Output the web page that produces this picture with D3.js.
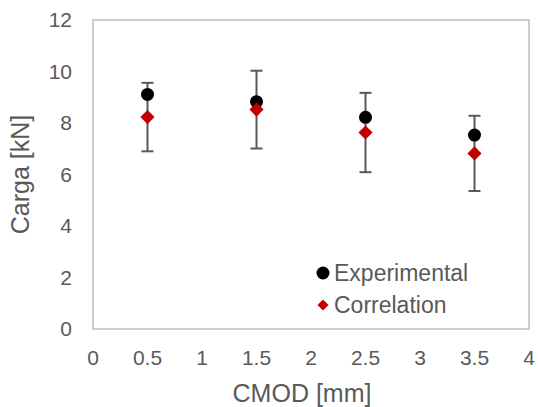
<!DOCTYPE html>
<html>
<head>
<meta charset="utf-8">
<script src="https://cdn.jsdelivr.net/npm/d3@7"></script>
<style>
  body { margin: 0; background: #fff; }
  text { font-family: "Liberation Sans", Arial, sans-serif; fill: #595959; }
</style>
</head>
<body>
<div id="chart"></div>
<script>
// data
const cmod = [0.5, 1.5, 2.5, 3.5];
const experimental = [9.11, 8.83, 8.22, 7.53];
const correlation = [8.23, 8.52, 7.63, 6.82];
const corrError = [1.33, 1.51, 1.54, 1.46];
const xTicks = [0, 0.5, 1, 1.5, 2, 2.5, 3, 3.5, 4];
const yTicks = [0, 2, 4, 6, 8, 10, 12];

const width = 538, height = 407;
const margin = { top: 20, right: 9, bottom: 78, left: 93 };

const svg = d3.select("#chart").append("svg")
    .attr("width", width)
    .attr("height", height);

const x = d3.scaleLinear().domain([0, 4]).range([margin.left, width - margin.right]);
const y = d3.scaleLinear().domain([0, 12]).range([height - margin.bottom, margin.top]);

// plot area box
svg.append("rect")
    .attr("x", x(0))
    .attr("y", y(12))
    .attr("width", x(4) - x(0))
    .attr("height", y(0) - y(12))
    .attr("fill", "none")
    .attr("stroke", "#bfbfbf")
    .attr("stroke-width", 1.5);

// tick labels
svg.append("g").selectAll("text")
    .data(xTicks)
    .enter().append("text")
    .attr("x", (d) => x(d))
    .attr("y", y(0) + 36)
    .attr("text-anchor", "middle")
    .style("font-size", "21px")
    .text((d) => d);

svg.append("g").selectAll("text")
    .data(yTicks)
    .enter().append("text")
    .attr("x", x(0) - 21)
    .attr("y", (d) => y(d))
    .attr("dy", "0.35em")
    .attr("text-anchor", "end")
    .style("font-size", "21px")
    .text((d) => d);

// axis titles
svg.append("text")
    .attr("x", 302)
    .attr("y", 402)
    .attr("text-anchor", "middle")
    .style("font-size", "25px")
    .text("CMOD [mm]");

svg.append("text")
    .attr("transform", `translate(29,${(y(0) + y(12)) / 2}) rotate(-90)`)
    .attr("text-anchor", "middle")
    .style("font-size", "25px")
    .text("Carga [kN]");

// error bars on the correlation series
const bars = svg.append("g")
    .attr("stroke", "#595959")
    .attr("stroke-width", 2);
cmod.forEach((c, i) => {
    const lo = correlation[i] - corrError[i];
    const hi = correlation[i] + corrError[i];
    bars.append("line")
        .attr("x1", x(c)).attr("x2", x(c))
        .attr("y1", y(lo)).attr("y2", y(hi));
    [lo, hi].forEach((v) => {
        bars.append("line")
            .attr("x1", x(c) - 6).attr("x2", x(c) + 6)
            .attr("y1", y(v)).attr("y2", y(v));
    });
});

const diamond = d3.symbol().type(d3.symbolSquare).size(100);

svg.append("g").selectAll("circle")
    .data(cmod)
    .enter().append("circle")
    .attr("cx", (d) => x(d))
    .attr("cy", (d, i) => y(experimental[i]))
    .attr("r", 6.5)
    .attr("fill", "#000");

svg.append("g").selectAll("path")
    .data(cmod)
    .enter().append("path")
    .attr("d", diamond)
    .attr("transform", (d, i) => `translate(${x(d)},${y(correlation[i])}) rotate(45)`)
    .attr("fill", "#c00000");

// legend
const legend = svg.append("g");
legend.append("circle")
    .attr("cx", 323).attr("cy", 273).attr("r", 6.5)
    .attr("fill", "#000");
legend.append("path")
    .attr("d", d3.symbol().type(d3.symbolSquare).size(60))
    .attr("transform", "translate(323,305) rotate(45)")
    .attr("fill", "#c00000");
legend.append("text")
    .attr("x", 334).attr("y", 273).attr("dy", "0.35em")
    .style("font-size", "23px")
    .text("Experimental");
legend.append("text")
    .attr("x", 334).attr("y", 305).attr("dy", "0.35em")
    .style("font-size", "23px")
    .text("Correlation");
</script>
</body>
</html>
